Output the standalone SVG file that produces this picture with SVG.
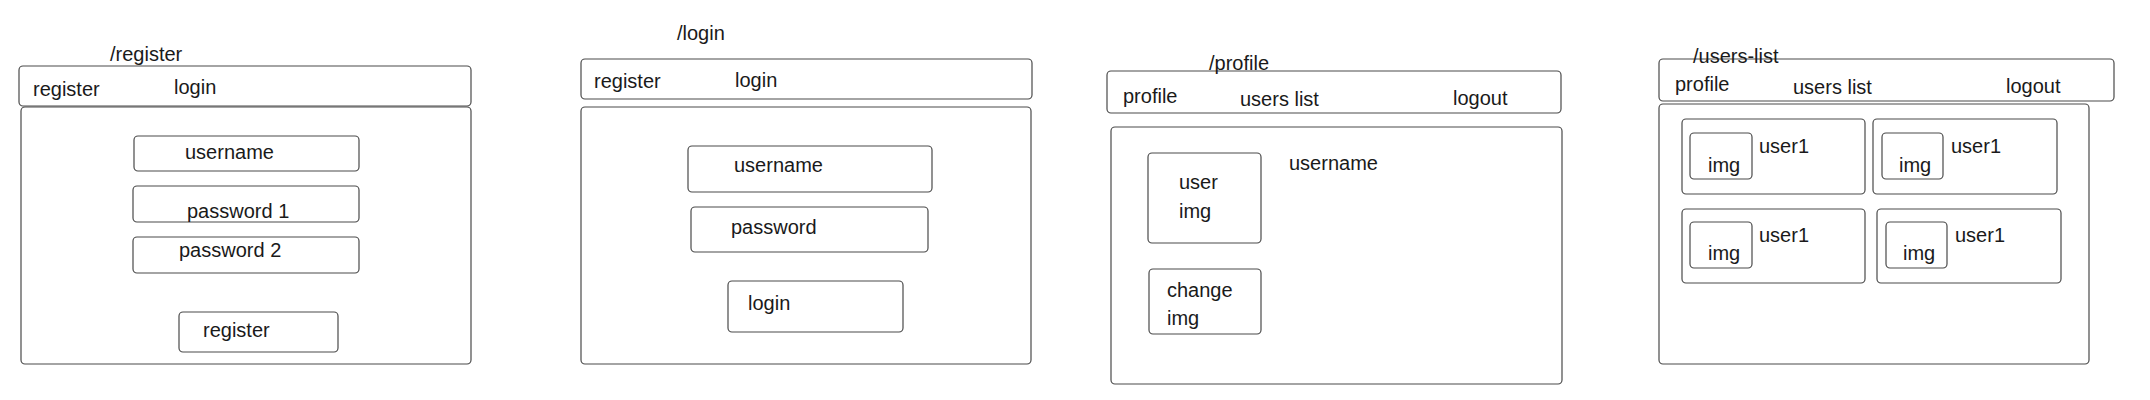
<svg xmlns="http://www.w3.org/2000/svg" width="2150" height="400" viewBox="0 0 2150 400">
<style>
rect{fill:#fff;stroke:#4a4a4a;stroke-width:1.2}
text{font-family:"Liberation Sans",Arial,sans-serif;font-size:20px;fill:#1a1a1a}
</style>
<rect x="0" y="0" width="2150" height="400" style="fill:#fff;stroke:none"/>
<g id="page-register">
<text x="110" y="61">/register</text>
<rect id="reg-nav" x="19" y="66" width="452" height="40" rx="4"/>
<text x="33" y="96">register</text>
<text x="174" y="94">login</text>
<rect id="reg-body" x="21" y="107" width="450" height="257" rx="4"/>
<rect x="134" y="136" width="225" height="35" rx="4"/>
<text x="185" y="159">username</text>
<rect x="133" y="186" width="226" height="36" rx="4"/>
<text x="187" y="218">password 1</text>
<rect x="133" y="237" width="226" height="36" rx="4"/>
<text x="179" y="257">password 2</text>
<rect x="179" y="312" width="159" height="40" rx="4"/>
<text x="203" y="337">register</text>
</g>
<g id="page-login">
<text x="677" y="40">/login</text>
<rect x="581" y="59" width="451" height="40" rx="4"/>
<text x="594" y="88">register</text>
<text x="735" y="87">login</text>
<rect x="581" y="107" width="450" height="257" rx="4"/>
<rect x="688" y="146" width="244" height="46" rx="4"/>
<text x="734" y="172">username</text>
<rect x="691" y="207" width="237" height="45" rx="4"/>
<text x="731" y="234">password</text>
<rect x="728" y="281" width="175" height="51" rx="4"/>
<text x="748" y="310">login</text>
</g>
<g id="page-profile">
<rect x="1107" y="71" width="454" height="42" rx="4"/>
<text x="1209" y="70">/profile</text>
<text x="1123" y="103">profile</text>
<text x="1240" y="106">users list</text>
<text x="1453" y="105">logout</text>
<rect x="1111" y="127" width="451" height="257" rx="4"/>
<rect x="1148" y="153" width="113" height="90" rx="4"/>
<text x="1179" y="189">user</text>
<text x="1179" y="218">img</text>
<rect x="1149" y="269" width="112" height="65" rx="4"/>
<text x="1167" y="297">change</text>
<text x="1167" y="325">img</text>
<text x="1289" y="170">username</text>
</g>
<g id="page-users-list">
<rect x="1659" y="59" width="455" height="42" rx="4"/>
<text x="1693" y="63">/users-list</text>
<text x="1675" y="91">profile</text>
<text x="1793" y="94">users list</text>
<text x="2006" y="93">logout</text>
<rect x="1659" y="104" width="430" height="260" rx="4"/>
<g id="card-1">
<rect x="1682" y="119" width="183" height="75" rx="4"/>
<rect x="1690" y="133" width="62" height="46" rx="4"/>
<text x="1708" y="172">img</text>
<text x="1759" y="153">user1</text>
</g>
<g id="card-2">
<rect x="1873" y="119" width="184" height="75" rx="4"/>
<rect x="1882" y="133" width="61" height="46" rx="4"/>
<text x="1899" y="172">img</text>
<text x="1951" y="153">user1</text>
</g>
<g id="card-3">
<rect x="1682" y="209" width="183" height="74" rx="4"/>
<rect x="1690" y="222" width="62" height="46" rx="4"/>
<text x="1708" y="260">img</text>
<text x="1759" y="242">user1</text>
</g>
<g id="card-4">
<rect x="1877" y="209" width="184" height="74" rx="4"/>
<rect x="1886" y="222" width="61" height="46" rx="4"/>
<text x="1903" y="260">img</text>
<text x="1955" y="242">user1</text>
</g>
</g>
<g id="connectors"/>
</svg>
